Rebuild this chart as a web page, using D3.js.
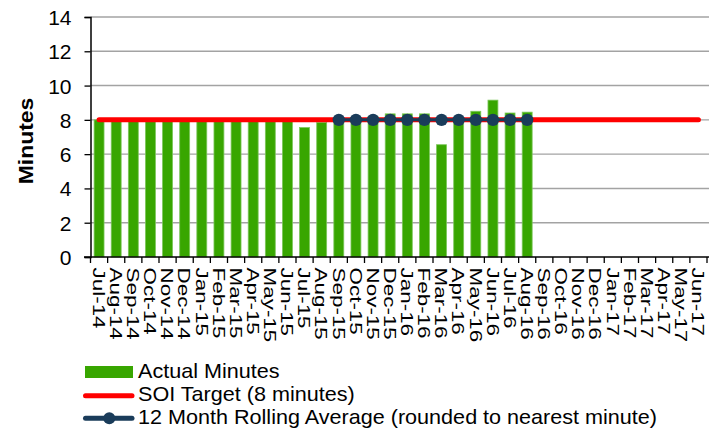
<!DOCTYPE html>
<html>
<head>
<meta charset="utf-8">
<script src="https://cdn.jsdelivr.net/npm/d3@7"></script>
<style>
  html, body { margin: 0; padding: 0; background: #fff; }
  svg { display: block; font-family: "Liberation Sans", Arial, sans-serif; }
</style>
</head>
<body>
<svg id="chart" width="709" height="433"></svg>
<script>
// Monthly categories, Jul-14 .. Jun-17
const months = ["Jul-14","Aug-14","Sep-14","Oct-14","Nov-14","Dec-14","Jan-15","Feb-15","Mar-15","Apr-15","May-15","Jun-15",
                "Jul-15","Aug-15","Sep-15","Oct-15","Nov-15","Dec-15","Jan-16","Feb-16","Mar-16","Apr-16","May-16","Jun-16",
                "Jul-16","Aug-16","Sep-16","Oct-16","Nov-16","Dec-16","Jan-17","Feb-17","Mar-17","Apr-17","May-17","Jun-17"];

// Actual minutes per month (reported through Aug-16)
const actualMinutes = [8.0, 7.9, 7.9, 7.9, 7.9, 7.9, 7.9, 7.9, 7.9, 7.9, 7.9, 7.9,
                       7.55, 7.85, 8.05, 8.1, 8.2, 8.35, 8.35, 8.35, 6.55, 8.0, 8.5, 9.15,
                       8.4, 8.45];

// SOI target, constant across all months
const targetMinutes = months.map(() => 8);

// 12 month rolling average, rounded, Sep-15 .. Aug-16
const rollingMonths = ["Sep-15","Oct-15","Nov-15","Dec-15","Jan-16","Feb-16","Mar-16","Apr-16","May-16","Jun-16","Jul-16","Aug-16"];
const rollingAverage = [8, 8, 8, 8, 8, 8, 8, 8, 8, 8, 8, 8];

const yTicks = [0, 2, 4, 6, 8, 10, 12, 14];

const legendLabels = ["Actual Minutes", "SOI Target (8 minutes)", "12 Month Rolling Average (rounded to nearest minute)"];

const colors = { bar: "#38a600", barEdge: "#7cc65a", target: "#ff0000", rolling: "#1a3c5a", grid: "#a3a3a3" };

const svg = d3.select("#chart");

const x = d3.scaleBand().domain(months).range([90.5, 707]).paddingInner(0.42).paddingOuter(0.21);
const y = d3.scaleLinear().domain([0, 14]).range([257, 17]);
const cx = d => x(d) + x.bandwidth() / 2;

// Horizontal gridlines
svg.append("g")
  .selectAll("line")
  .data(yTicks.filter(t => t > 0))
  .join("line")
  .attr("x1", 90.5).attr("x2", 709)
  .attr("y1", d => y(d)).attr("y2", d => y(d))
  .attr("stroke", colors.grid).attr("stroke-width", 1.4);

// Bars
svg.append("g")
  .selectAll("rect")
  .data(actualMinutes)
  .join("rect")
  .attr("x", (d, i) => x(months[i]))
  .attr("y", d => y(d))
  .attr("width", x.bandwidth())
  .attr("height", d => y(0) - y(d))
  .attr("fill", colors.bar)
  .attr("stroke", colors.barEdge).attr("stroke-width", 0.8);

// Y axis
const yAxis = d3.axisLeft(y).tickValues(yTicks).tickSize(6).tickPadding(13).tickFormat(d3.format("d"));
const gy = svg.append("g").attr("transform", "translate(90.5,0)").call(yAxis);
gy.select(".domain").attr("stroke", "#000").attr("stroke-width", 1.5);
gy.selectAll(".tick line").attr("stroke", "#000").attr("stroke-width", 1.3);
gy.selectAll(".tick text").attr("font-size", 21).attr("fill", "#000")
  .attr("font-family", "Liberation Sans, Arial, sans-serif").attr("dy", "0.36em");

// X axis: ticks at category boundaries
const gx = svg.append("g");
gx.append("line").attr("x1", 84).attr("x2", 709).attr("y1", 257).attr("y2", 257)
  .attr("stroke", "#000").attr("stroke-width", 1.5);
const step = x.step();
const bounds = months.map((m, i) => x.range()[0] + i * step).concat([x.range()[0] + months.length * step]);
gx.selectAll("line.tk")
  .data(bounds)
  .join("line").attr("class", "tk")
  .attr("x1", d => d).attr("x2", d => d)
  .attr("y1", 257).attr("y2", 263)
  .attr("stroke", "#000").attr("stroke-width", 1.3);
gx.selectAll("text")
  .data(months)
  .join("text")
  .attr("transform", d => `translate(${cx(d)},267.5) rotate(90) scale(1.36,1)`)
  .attr("x", 0).attr("y", 6.3)
  .attr("font-size", 16.5)
  .attr("fill", "#000")
  .text(d => d);

// Y axis title
svg.append("text")
  .attr("transform", "translate(33,141) rotate(-90) scale(1.12,1)")
  .attr("text-anchor", "middle")
  .attr("font-size", 20.5).attr("font-weight", "bold")
  .attr("fill", "#000")
  .text("Minutes");

// SOI target line
const line = d3.line().x(d => cx(d[0])).y(d => y(d[1]));
svg.append("path")
  .datum(months.map((m, i) => [m, targetMinutes[i]]))
  .attr("d", line)
  .attr("fill", "none").attr("stroke", colors.target)
  .attr("stroke-width", 5).attr("stroke-linecap", "round");

// Rolling average line with markers
svg.append("path")
  .datum(rollingMonths.map((m, i) => [m, rollingAverage[i]]))
  .attr("d", line)
  .attr("fill", "none").attr("stroke", colors.rolling).attr("stroke-width", 3);
svg.append("g")
  .selectAll("circle")
  .data(rollingMonths)
  .join("circle")
  .attr("cx", d => cx(d))
  .attr("cy", (d, i) => y(rollingAverage[i]))
  .attr("r", 6.2)
  .attr("fill", colors.rolling);

// Legend
const lg = svg.append("g");
lg.append("rect").attr("x", 85).attr("y", 366).attr("width", 48).attr("height", 12).attr("fill", colors.bar);
lg.append("line").attr("x1", 85.5).attr("x2", 132).attr("y1", 395.7).attr("y2", 395.7)
  .attr("stroke", colors.target).attr("stroke-width", 5).attr("stroke-linecap", "round");
lg.append("line").attr("x1", 85.5).attr("x2", 132).attr("y1", 418.3).attr("y2", 418.3)
  .attr("stroke", colors.rolling).attr("stroke-width", 5).attr("stroke-linecap", "round");
lg.append("circle").attr("cx", 109.3).attr("cy", 418.3).attr("r", 6).attr("fill", colors.rolling);
const baselines = [377.7, 401, 424.3];
lg.selectAll("text")
  .data(legendLabels)
  .join("text")
  .attr("transform", (d, i) => `translate(138,${baselines[i]}) scale(1.08,1)`)
  .attr("font-size", 20)
  .attr("fill", "#000")
  .text(d => d);
</script>
</body>
</html>
